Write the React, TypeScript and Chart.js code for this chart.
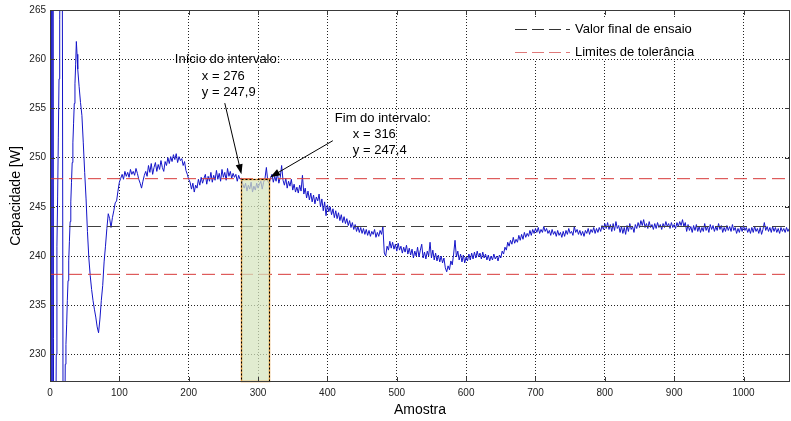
import React, { useEffect, useRef } from "react";
import { Chart, registerables } from "chart.js";

Chart.register(...registerables);

const X_MIN = 0;
const X_MAX = 1067;
const Y_MIN = 227.2;
const Y_MAX = 265;

const xTicks = [0, 100, 200, 300, 400, 500, 600, 700, 800, 900, 1000];
const yTicks = [230, 235, 240, 245, 250, 255, 260, 265];

// samples 0..39 (one per sample)
const earlyCapacity = [
  243, 160, 330, 170, 300, 231.6, 190, 200, 215, 230,
  241, 246, 252, 258, 264, 272, 285, 290, 260, 215,
  200, 220, 229, 231, 233, 235.5, 237.5, 239.5, 241.5, 243.5,
  245.5, 247.5, 249.5, 251.5, 253.5, 255.5, 257.5, 259.5, 261.8, 260.5,
];

// samples 40, 42, 44, ... (every 2nd sample)
const MAIN_START = 40;
const MAIN_STEP = 2;
const capacity = [
  // 40
  259.0, 257.2, 255.6, 254.3, 251.5, 248.5, 245.8, 242.5, 239.8, 238.0,
  236.6, 235.5, 234.6, 233.8, 232.8, 232.2, 233.6, 235.5, 237.0, 239.4,
  241.0, 242.8, 244.3, 243.8, 242.9, 243.9, 244.6, 245.4, 245.6, 246.6,
  247.5,
  // 102
  247.9, 248.3, 247.8, 248.6, 248.1, 248.5, 248.0, 248.8, 248.3, 248.6,
  248.2, 248.9, 248.4, 247.8, 247.4, 246.9, 247.6, 248.2, 248.6, 248.1,
  249.2, 248.5, 249.4, 248.3, 249.0, 249.5, 248.6, 249.3, 248.8, 249.7,
  249.0, 248.6, 249.6, 249.2, 250.0, 249.4, 250.1, 249.6, 250.3, 249.8,
  250.4, 249.5, 250.1, 249.7, 249.9, 249.2, 249.6, 248.7, 248.3, 247.8,
  247.5, 246.8, 247.4, 246.5, 247.2, 246.9, 247.8, 247.2, 248.0, 247.4,
  247.9, 248.3, 247.3, 248.1, 247.6, 248.5, 247.5, 248.2, 247.7, 248.7,
  247.8, 248.4, 247.6, 248.8, 248.0, 248.5, 247.7, 248.9, 248.1, 248.6,
  247.9, 248.4, 248.0, 248.3, 247.6, 248.2, 247.8, 247.9,
  // 278
  247.3, 246.9, 247.4, 246.6, 247.2, 246.8, 247.5, 246.5, 247.1, 246.7,
  247.4, 246.9, 247.3, 247.6, 246.8, 247.5, 247.9, 249.0, 247.6, 247.4,
  // 318
  247.9, 248.3, 247.5, 248.1, 247.6, 248.4, 247.4, 248.0, 249.2, 247.7,
  247.2, 247.9, 246.9, 247.6, 247.1, 247.8, 246.7, 247.3, 246.5, 247.0,
  246.4, 247.2, 246.6, 248.2, 246.3, 246.9, 245.9, 246.6, 245.7, 246.4,
  245.5, 246.2, 245.3, 246.0, 245.6, 246.3, 245.0, 245.8, 244.6, 245.5,
  244.1, 245.2, 244.5, 245.0, 244.2, 244.8, 243.9, 244.6, 243.8, 244.4,
  243.6, 244.2, 243.4, 244.0, 243.3, 243.8, 243.1, 243.6, 242.9, 243.4,
  242.7, 243.2, 242.5, 243.0, 242.4, 242.9, 242.3, 242.8, 242.2, 242.7,
  242.1, 242.6, 242.0, 242.5, 242.2, 242.7, 241.9, 242.4, 242.0, 242.6,
  242.2, 243.0,
  // 482
  240.3, 240.0, 241.0, 240.6, 241.5, 240.8, 241.4, 240.7, 241.2, 240.5,
  241.3, 240.6, 241.0, 240.3, 240.9, 240.4, 241.1, 240.2, 240.8, 240.1,
  240.7, 239.8, 240.5, 240.0, 240.9, 239.9, 240.6, 241.2, 239.8, 240.4,
  239.7, 240.5, 240.0, 241.4, 239.8, 240.6, 239.6, 240.3, 239.5, 240.1,
  239.4, 240.0, 239.3, 239.8, 238.8, 238.4, 239.0, 238.6, 239.5, 239.1,
  240.2, 241.6, 239.9, 240.5, 239.6, 240.2, 239.4, 240.1, 239.3, 239.9,
  239.5, 240.2, 239.6, 240.3, 239.7, 240.4, 239.8, 240.5, 239.9, 240.3,
  239.7, 240.4, 239.8, 240.2, 239.6, 240.1, 239.5, 240.0, 239.6, 240.2,
  239.7, 240.0, 239.5, 240.1, 239.8, 240.5, 240.2, 240.9, 240.6, 241.4,
  // 662
  241.0, 241.6, 241.2, 241.9, 241.3, 241.7, 241.4, 242.1, 241.6, 242.2,
  241.7, 242.4, 241.9, 242.3, 242.0, 242.6, 242.1, 242.7, 242.3, 242.8,
  242.4, 242.9, 242.3, 242.7, 242.4, 243.0, 242.5, 242.8, 242.3, 242.6,
  242.1, 242.7, 242.2, 242.5, 242.0, 242.6, 242.1, 242.4, 241.9, 242.5,
  242.0, 242.6, 242.2, 242.8, 242.3, 242.5, 242.1, 243.0, 242.4, 242.7,
  242.2, 242.6, 242.1, 242.5, 242.0, 242.6, 242.3, 242.8, 242.2, 242.7,
  242.4, 242.9, 242.3, 242.8, 242.4, 242.9, 242.5, 243.1, 242.7, 243.3,
  // 802
  242.8, 243.4, 242.7, 243.2, 242.5, 243.3, 242.6, 243.5, 242.8, 243.1,
  242.4, 243.0, 242.3, 242.9, 242.2, 243.1, 242.5, 243.3, 242.7, 243.0,
  242.4, 243.2, 242.8, 243.4, 242.9, 243.6, 243.1, 243.7, 242.9, 243.3,
  242.8, 243.5, 242.9, 243.2, 242.7, 243.3, 242.8, 243.4, 242.9, 243.2,
  242.7, 243.3, 242.9, 243.5, 243.0, 243.3, 242.8, 243.4, 242.9, 243.2,
  242.8, 243.4, 243.0, 243.5, 243.1, 243.7, 243.0, 243.4, 242.5, 243.2,
  242.6, 243.0, 242.4, 243.1, 242.6, 243.2, 242.5, 243.0, 242.4, 242.9,
  242.5, 243.3, 242.6, 243.0, 242.4, 243.2, 242.7, 243.1, 242.5, 243.0,
  242.6, 243.3, 242.7, 243.1, 242.4, 242.9, 242.5, 243.1, 242.6, 243.0,
  242.5, 243.2, 242.6, 242.9, 242.3, 242.8, 242.4, 243.0, 242.5, 243.1,
  242.6, 242.9, 242.4, 242.8, 242.3, 242.9, 242.4, 243.0, 242.5, 242.8,
  242.3, 242.9, 242.2, 242.7, 243.4, 242.6, 243.0, 242.5, 242.9, 242.4,
  243.0, 242.5, 242.9, 242.4, 242.8, 242.3, 242.9, 242.5, 242.8, 242.4,
  242.9, 242.5, 242.8,
];

const finalValue = 243;
const toleranceUpper = 247.86;
const toleranceLower = 238.14;

const intervalStart = { x: 276, y: 247.9 };
const intervalEnd = { x: 316, y: 247.4 };
const intervalTop = 247.8;

const startLabelLines = ["Início do intervalo:", "x = 276", "y = 247,9"];
const endLabelLines = ["Fim do intervalo:", "x = 316", "y = 247,4"];
const legendLabels = ["Valor final de ensaio", "Limites de tolerância"];

const xTitle = "Amostra";
const yTitle = "Capacidade [W]";

const FONT = '"Liberation Sans", Arial, sans-serif';
const BLUE = "#1414c8";
const RED = "#d83a3a";
const DARK = "#3a3a3a";

function drawArrow(ctx: CanvasRenderingContext2D, x1: number, y1: number, x2: number, y2: number) {
  const ang = Math.atan2(y2 - y1, x2 - x1);
  const len = 10;
  const half = 3.5;
  ctx.save();
  ctx.strokeStyle = "#000";
  ctx.fillStyle = "#000";
  ctx.lineWidth = 1;
  ctx.beginPath();
  ctx.moveTo(x1, y1);
  ctx.lineTo(x2 - Math.cos(ang) * len * 0.8, y2 - Math.sin(ang) * len * 0.8);
  ctx.stroke();
  const bx = x2 - Math.cos(ang) * len;
  const by = y2 - Math.sin(ang) * len;
  ctx.beginPath();
  ctx.moveTo(x2, y2);
  ctx.lineTo(bx + Math.cos(ang + Math.PI / 2) * half, by + Math.sin(ang + Math.PI / 2) * half);
  ctx.lineTo(bx - Math.cos(ang + Math.PI / 2) * half, by - Math.sin(ang + Math.PI / 2) * half);
  ctx.closePath();
  ctx.fill();
  ctx.restore();
}

const overlayPlugin = {
  id: "overlay",
  afterDatasetsDraw(chart: any) {
    const { ctx, chartArea } = chart;
    const xs = chart.scales.x;
    const ys = chart.scales.y;
    const { left, right, top, bottom } = chartArea;

    // shaded interval
    const sx = xs.getPixelForValue(intervalStart.x);
    const ex = xs.getPixelForValue(intervalEnd.x);
    const ty = ys.getPixelForValue(intervalTop);
    ctx.save();
    ctx.fillStyle = "rgba(214,228,190,0.72)";
    ctx.fillRect(sx, ty, ex - sx, bottom - ty);
    ctx.lineWidth = 1.5;
    ctx.strokeStyle = "#e8a040";
    ctx.strokeRect(Math.round(sx) + 0.5, Math.round(ty) + 0.5, Math.round(ex - sx), Math.round(bottom - ty) - 1);
    ctx.lineWidth = 1;
    ctx.strokeStyle = "#000";
    ctx.setLineDash([2, 2]);
    ctx.strokeRect(Math.round(sx) + 0.5, Math.round(ty) + 0.5, Math.round(ex - sx), Math.round(bottom - ty) - 1);
    ctx.restore();

    // axes box and inward tick marks
    ctx.save();
    ctx.strokeStyle = DARK;
    ctx.lineWidth = 1;
    ctx.strokeRect(Math.round(left) + 0.5, Math.round(top) + 0.5, Math.round(right - left) - 1, Math.round(bottom - top) - 1);
    ctx.beginPath();
    xTicks.forEach((v) => {
      const px = Math.round(xs.getPixelForValue(v)) + 0.5;
      ctx.moveTo(px, bottom);
      ctx.lineTo(px, bottom - 5);
      ctx.moveTo(px, top);
      ctx.lineTo(px, top + 5);
    });
    yTicks.forEach((v) => {
      const py = Math.round(ys.getPixelForValue(v)) + 0.5;
      ctx.moveTo(left, py);
      ctx.lineTo(left + 5, py);
      ctx.moveTo(right, py);
      ctx.lineTo(right - 5, py);
    });
    ctx.stroke();
    ctx.restore();

    // annotations
    ctx.save();
    ctx.font = `13px ${FONT}`;
    ctx.fillStyle = "#000";
    ctx.textBaseline = "middle";
    ctx.textAlign = "left";
    const s0x = xs.getPixelForValue(180);
    const s0y = ys.getPixelForValue(259.97);
    ctx.fillText(startLabelLines[0], s0x, s0y);
    ctx.fillText(startLabelLines[1], s0x + 27, s0y + 16.5);
    ctx.fillText(startLabelLines[2], s0x + 27, s0y + 33);
    const e0x = xs.getPixelForValue(410.7);
    const e0y = ys.getPixelForValue(254.03);
    ctx.fillText(endLabelLines[0], e0x, e0y);
    ctx.fillText(endLabelLines[1], e0x + 18, e0y + 16);
    ctx.fillText(endLabelLines[2], e0x + 18, e0y + 32);
    ctx.restore();

    drawArrow(
      ctx,
      xs.getPixelForValue(252),
      ys.getPixelForValue(255.54),
      xs.getPixelForValue(intervalStart.x),
      ys.getPixelForValue(intervalStart.y) - 4
    );
    drawArrow(
      ctx,
      xs.getPixelForValue(407.8),
      ys.getPixelForValue(251.72),
      xs.getPixelForValue(intervalEnd.x) + 1,
      ys.getPixelForValue(intervalEnd.y) - 6
    );

    // legend
    const lx = right - 302;
    const ly = top + 8;
    ctx.save();
    ctx.fillStyle = "#fff";
    ctx.fillRect(lx, ly, 254, 41);
    ctx.lineWidth = 1;
    const rows = [
      { color: "#333", label: legendLabels[0], y: ly + 11 },
      { color: "#e07a7a", label: legendLabels[1], y: ly + 34 },
    ];
    rows.forEach((r) => {
      ctx.strokeStyle = r.color;
      ctx.setLineDash([12, 5]);
      ctx.beginPath();
      ctx.moveTo(lx + 27, Math.round(r.y) + 0.5);
      ctx.lineTo(lx + 82, Math.round(r.y) + 0.5);
      ctx.stroke();
      ctx.setLineDash([]);
      ctx.fillStyle = "#000";
      ctx.font = `13px ${FONT}`;
      ctx.textBaseline = "middle";
      ctx.textAlign = "left";
      ctx.fillText(r.label, lx + 87, r.y);
    });
    ctx.restore();
  },
};

export default function App() {
  const canvasRef = useRef<HTMLCanvasElement | null>(null);

  useEffect(() => {
    const canvas = canvasRef.current;
    if (!canvas) return;
    const points = [
      ...earlyCapacity.map((y, i) => ({ x: i, y })),
      ...capacity.map((y, i) => ({ x: MAIN_START + MAIN_STEP * i, y })),
    ];
    const hLine = (y: number) => [
      { x: X_MIN, y },
      { x: X_MAX, y },
    ];
    const chart = new Chart(canvas, {
      type: "line",
      data: {
        datasets: [
          {
            label: legendLabels[0],
            data: hLine(finalValue),
            borderColor: "#404040",
            borderWidth: 1,
            borderDash: [13, 6],
            pointRadius: 0,
            order: 0,
          },
          {
            label: legendLabels[1],
            data: hLine(toleranceUpper),
            borderColor: RED,
            borderWidth: 1,
            borderDash: [13, 6],
            pointRadius: 0,
            order: 1,
          },
          {
            label: legendLabels[1] + " inf",
            data: hLine(toleranceLower),
            borderColor: RED,
            borderWidth: 1,
            borderDash: [13, 6],
            pointRadius: 0,
            order: 2,
          },
          {
            label: "Capacidade",
            data: points,
            borderColor: BLUE,
            borderWidth: 1,
            pointRadius: 0,
            tension: 0,
            clip: 0,
            order: 3,
          },
        ],
      },
      options: {
        animation: false,
        responsive: false,
        devicePixelRatio: 1,
        events: [],
        layout: { padding: { left: 0, right: 1, top: 6, bottom: 0 } },
        plugins: {
          legend: { display: false },
          tooltip: { enabled: false },
        },
        scales: {
          x: {
            type: "linear",
            min: X_MIN,
            max: X_MAX,
            afterBuildTicks: (scale: any) => {
              scale.ticks = xTicks.map((v) => ({ value: v }));
            },
            afterFit: (scale: any) => {
              scale.height = 39;
            },
            grid: { color: "#222", lineWidth: 1, drawTicks: false },
            border: { display: false, dash: [1, 2] },
            ticks: {
              padding: 5,
              color: "#222",
              font: { family: FONT, size: 10 },
              maxRotation: 0,
              callback: (v: any) => String(v),
            },
            title: {
              display: true,
              text: xTitle,
              color: "#000",
              font: { family: FONT, size: 14 },
              padding: { top: 0, bottom: 2 },
            },
          },
          y: {
            type: "linear",
            min: Y_MIN,
            max: Y_MAX,
            afterBuildTicks: (scale: any) => {
              scale.ticks = yTicks.map((v) => ({ value: v }));
            },
            afterFit: (scale: any) => {
              scale.width = 50;
            },
            grid: { color: "#222", lineWidth: 1, drawTicks: false },
            border: { display: false, dash: [1, 2] },
            ticks: {
              padding: 4,
              color: "#222",
              font: { family: FONT, size: 10 },
              callback: (v: any) => String(v),
            },
            title: {
              display: true,
              text: yTitle,
              color: "#000",
              font: { family: FONT, size: 14 },
              padding: { top: 8, bottom: 0 },
            },
          },
        },
      },
      plugins: [overlayPlugin],
    });
    return () => chart.destroy();
  }, []);

  return (
    <div style={{ position: "absolute", left: 0, top: 0, width: 791, height: 421, background: "#fff" }}>
      <canvas ref={canvasRef} width={791} height={421} style={{ display: "block" }} />
    </div>
  );
}
